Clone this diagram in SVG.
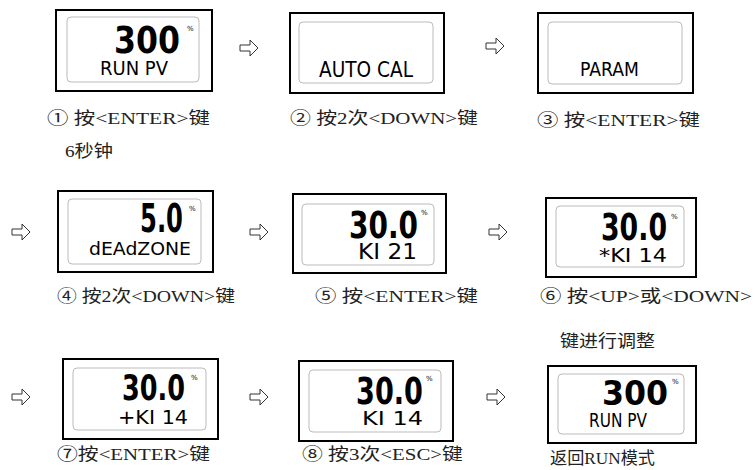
<svg xmlns="http://www.w3.org/2000/svg" width="755" height="470" viewBox="0 0 755 470">
<style>
.outer{fill:#fff;stroke:#000;stroke-width:2}
.inner{fill:#fff;stroke:#bbb;stroke-width:1}
.big{font-family:"DejaVu Sans",sans-serif;font-weight:bold;fill:#000}
.sm{font-family:"DejaVu Sans",sans-serif;fill:#000}
.pc{font-family:"DejaVu Sans",sans-serif;font-size:7px;fill:#000}
.lbl{font-family:"Liberation Serif","Noto Sans CJK SC",serif;font-size:17px;fill:#222}
.arr{fill:#fff;stroke:#333;stroke-width:1}
</style>
<defs>
<path id="ar" d="M0,-3 h10 v-5 l8,8 l-8,8 v-5 h-10 z"/>
</defs>
<rect width="755" height="470" fill="#fff"/>
<g id="connectors">
<use href="#ar" class="arr" x="240" y="48"/>
<use href="#ar" class="arr" x="486" y="46"/>
<use href="#ar" class="arr" x="12" y="232"/>
<use href="#ar" class="arr" x="250" y="232"/>
<use href="#ar" class="arr" x="489" y="232"/>
<use href="#ar" class="arr" x="12" y="397"/>
<use href="#ar" class="arr" x="250" y="397"/>
<use href="#ar" class="arr" x="487" y="397"/>
</g>
<g id="node1">
<rect class="outer" x="56" y="10" width="156" height="81"/>
<rect class="inner" x="67" y="17" width="132" height="65" rx="4"/>
<text class="big" transform="translate(114,53) scale(0.832,1)" font-size="38" textLength="79.3" lengthAdjust="spacingAndGlyphs">300</text>
<text class="pc" x="187" y="31">%</text>
<text class="sm" transform="translate(100,75) scale(0.9,1)" font-size="20" textLength="75.6" lengthAdjust="spacingAndGlyphs">RUN PV</text>
<text class="lbl" x="47" y="124" textLength="163" lengthAdjust="spacingAndGlyphs">① 按&lt;ENTER&gt;键</text>
<text class="lbl" x="65" y="157" textLength="48" lengthAdjust="spacingAndGlyphs">6秒钟</text>
</g>
<g id="node2">
<rect class="outer" x="290" y="13" width="154" height="80"/>
<rect class="inner" x="299" y="22" width="134" height="61" rx="4"/>
<text class="sm" transform="translate(319,77) scale(0.883,1)" font-size="21" textLength="106.5" lengthAdjust="spacingAndGlyphs">AUTO CAL</text>
<text class="lbl" x="290" y="124" textLength="188" lengthAdjust="spacingAndGlyphs">② 按2次&lt;DOWN&gt;键</text>
</g>
<g id="node3">
<rect class="outer" x="538" y="13" width="155" height="80"/>
<rect class="inner" x="548" y="22" width="134" height="62" rx="4"/>
<text class="sm" transform="translate(580,76) scale(0.88,1)" font-size="19" textLength="67" lengthAdjust="spacingAndGlyphs">PARAM</text>
<text class="lbl" x="537" y="126" textLength="163" lengthAdjust="spacingAndGlyphs">③ 按&lt;ENTER&gt;键</text>
</g>
<g id="node4">
<rect class="outer" x="58" y="191" width="155" height="81"/>
<rect class="inner" x="68" y="199" width="133" height="65" rx="4"/>
<text class="big" transform="translate(140,232) scale(0.622,1)" font-size="39" textLength="69.1" lengthAdjust="spacingAndGlyphs">5.0</text>
<text class="pc" x="189" y="211">%</text>
<text class="sm" transform="translate(89,255) scale(1.042,1)" font-size="18" textLength="97.9" lengthAdjust="spacingAndGlyphs">dEAdZONE</text>
<text class="lbl" x="57" y="302" textLength="178" lengthAdjust="spacingAndGlyphs">④ 按2次&lt;DOWN&gt;键</text>
</g>
<g id="node5">
<rect class="outer" x="293" y="194" width="153" height="79"/>
<rect class="inner" x="302" y="204" width="132" height="61" rx="4"/>
<text class="big" transform="translate(349,238) scale(0.736,1)" font-size="38" textLength="93.8" lengthAdjust="spacingAndGlyphs">30.0</text>
<text class="pc" x="421" y="215">%</text>
<text class="sm" transform="translate(358,259) scale(1.105,1)" font-size="21" textLength="53.4" lengthAdjust="spacingAndGlyphs">KI 21</text>
<text class="lbl" x="315" y="302" textLength="163" lengthAdjust="spacingAndGlyphs">⑤ 按&lt;ENTER&gt;键</text>
</g>
<g id="node6">
<rect class="outer" x="546" y="198" width="150" height="79"/>
<rect class="inner" x="556" y="206" width="128" height="61" rx="4"/>
<text class="big" transform="translate(601,240) scale(0.723,1)" font-size="37" textLength="91.3" lengthAdjust="spacingAndGlyphs">30.0</text>
<text class="pc" x="671" y="219">%</text>
<text class="sm" transform="translate(599,262) scale(1.177,1)" font-size="19" textLength="57.8" lengthAdjust="spacingAndGlyphs">*KI 14</text>
<text class="lbl" x="540" y="302" textLength="212" lengthAdjust="spacingAndGlyphs">⑥ 按&lt;UP&gt;或&lt;DOWN&gt;</text>
<text class="lbl" x="560" y="347" textLength="95" lengthAdjust="spacingAndGlyphs">键进行调整</text>
</g>
<g id="node7">
<rect class="outer" x="63" y="359" width="155" height="80"/>
<rect class="inner" x="73" y="368" width="133" height="62" rx="4"/>
<text class="big" transform="translate(122,400) scale(0.729,1)" font-size="35" textLength="86.4" lengthAdjust="spacingAndGlyphs">30.0</text>
<text class="pc" x="191" y="380">%</text>
<text class="sm" transform="translate(118,424) scale(1.036,1)" font-size="20" textLength="67.6" lengthAdjust="spacingAndGlyphs">+KI 14</text>
<text class="lbl" x="57" y="460" textLength="153" lengthAdjust="spacingAndGlyphs">⑦按&lt;ENTER&gt;键</text>
</g>
<g id="node8">
<rect class="outer" x="299" y="361" width="154" height="80"/>
<rect class="inner" x="309" y="370" width="132" height="62" rx="4"/>
<text class="big" transform="translate(356,404) scale(0.734,1)" font-size="37" textLength="91.3" lengthAdjust="spacingAndGlyphs">30.0</text>
<text class="pc" x="426" y="381">%</text>
<text class="sm" transform="translate(362,425) scale(1.2,1)" font-size="20" textLength="50.8" lengthAdjust="spacingAndGlyphs">KI 14</text>
<text class="lbl" x="302" y="460" textLength="161" lengthAdjust="spacingAndGlyphs">⑧ 按3次&lt;ESC&gt;键</text>
</g>
<g id="node9">
<rect class="outer" x="548" y="366" width="148" height="77"/>
<rect class="inner" x="558" y="374" width="126" height="60" rx="4"/>
<text class="big" transform="translate(602,405) scale(0.93,1)" font-size="34" textLength="71" lengthAdjust="spacingAndGlyphs">300</text>
<text class="pc" x="672" y="384">%</text>
<text class="sm" transform="translate(589,427) scale(0.808,1)" font-size="19" textLength="71.8" lengthAdjust="spacingAndGlyphs">RUN PV</text>
<text class="lbl" x="550" y="464" textLength="105" lengthAdjust="spacingAndGlyphs">返回RUN模式</text>
</g>
</svg>
